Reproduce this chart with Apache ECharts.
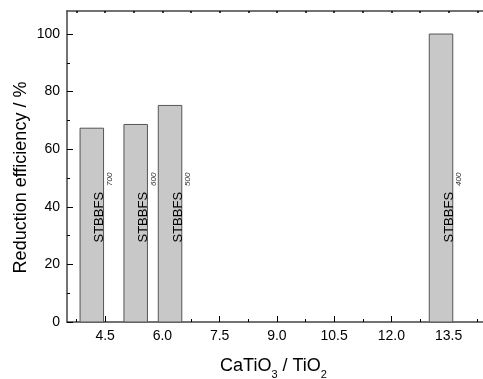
<!DOCTYPE html>
<html>
<head>
<meta charset="utf-8">
<script src="https://cdn.jsdelivr.net/npm/echarts@6/dist/echarts.min.js"></script>
<style>
html,body{margin:0;padding:0;background:#fff;}
#chart{width:483px;height:379px;}
</style>
</head>
<body>
<div id="chart"></div>
<script>
// ---- data ----
const SAMPLE_TEMPS = ['700', '600', '500', '400'];
const RATIO = [4.15, 5.3, 6.2, 13.3];
const EFFICIENCY = [67.3, 68.6, 75.2, 100];
const X_MAJOR_TICKS = [4.5, 6.0, 7.5, 9.0, 10.5, 12.0, 13.5];
const X_MINOR_TICKS = [3.75, 5.25, 6.75, 8.25, 9.75, 11.25, 12.75, 14.25];
const X_TOP_TICKS = [3.75, 4.5, 5.25, 6.0, 6.75, 7.5, 8.25, 9.0, 9.75, 10.5, 11.25, 12.0, 12.75, 13.5, 14.25];
const Y_MAJOR_TICKS = [0, 20, 40, 60, 80, 100];
const Y_MINOR_TICKS = [10, 30, 50, 70, 90];

// ---- styles ----
const FONT = "'Liberation Sans', Arial, sans-serif";
const BAR_W = 23.5;
const LINE_COLOR = '#444';

const seriesData = RATIO.map((x, i) => [x, EFFICIENCY[i], SAMPLE_TEMPS[i]]);

const chart = echarts.init(document.getElementById('chart'), null, {renderer: 'canvas'});

function renderItem(params, api) {
  const x = api.value(0), y = api.value(1);
  const label = SAMPLE_TEMPS[params.dataIndex];
  const top = api.coord([x, y]);
  const base = api.coord([x, 0]);
  const tx = base[0] + 8;
  const ty = base[1] - 79.5;
  return {
    type: 'group',
    children: [
      {
        type: 'rect',
        shape: {x: top[0] - BAR_W / 2, y: top[1], width: BAR_W, height: base[1] - top[1]},
        style: {fill: '#c8c8c8', stroke: '#555', lineWidth: 1}
      },
      {
        type: 'text',
        x: tx, y: ty, rotation: Math.PI / 2,
        style: {text: 'STBBFS', fontSize: 13, fontFamily: FONT, fill: '#000',
                align: 'left', verticalAlign: 'middle', textAlign: 'left', textVerticalAlign: 'middle'}
      },
      {
        type: 'text',
        x: tx + 9.7, y: ty - 56.5, rotation: Math.PI / 2,
        style: {text: label, fontSize: 8, fontStyle: 'italic', fontFamily: FONT, fill: '#333',
                align: 'left', verticalAlign: 'middle', textAlign: 'left', textVerticalAlign: 'middle'}
      }
    ]
  };
}

const xCommon = {type: 'value', min: 3.5, max: 14.4, splitLine: {show: false}};
const yCommon = {type: 'value', min: 0, max: 108, splitLine: {show: false}};

chart.setOption({
  animation: false,
  backgroundColor: '#fff',
  grid: {left: 67, right: 0, top: 11, bottom: 57, containLabel: false},
  xAxis: [
    Object.assign({}, xCommon, {
      position: 'bottom',
      axisLine: {show: true, lineStyle: {color: LINE_COLOR, width: 1.5}},
      axisTick: {show: true, inside: true, length: 6, customValues: X_MAJOR_TICKS, lineStyle: {color: '#000', width: 1}},
      axisLabel: {show: true, customValues: X_MAJOR_TICKS, margin: 7, fontSize: 14, fontFamily: FONT, color: '#000',
                  formatter: v => Number(v).toFixed(1)}
    }),
    Object.assign({}, xCommon, {
      position: 'bottom',
      axisLine: {show: false},
      axisTick: {show: true, inside: true, length: 3, customValues: X_MINOR_TICKS, lineStyle: {color: '#000', width: 1}},
      axisLabel: {show: false}
    }),
    Object.assign({}, xCommon, {
      position: 'top',
      axisLine: {show: true, lineStyle: {color: LINE_COLOR, width: 1.5}},
      axisTick: {show: true, inside: true, length: 2, customValues: X_TOP_TICKS, lineStyle: {color: '#000', width: 1.5}},
      axisLabel: {show: false}
    })
  ],
  yAxis: [
    Object.assign({}, yCommon, {
      position: 'left',
      axisLine: {show: true, lineStyle: {color: LINE_COLOR, width: 1.5}},
      axisTick: {show: true, inside: true, length: 6, customValues: Y_MAJOR_TICKS, lineStyle: {color: '#000', width: 1}},
      axisLabel: {show: true, customValues: Y_MAJOR_TICKS, margin: 7, fontSize: 14, fontFamily: FONT, color: '#000'}
    }),
    Object.assign({}, yCommon, {
      position: 'left',
      axisLine: {show: false},
      axisTick: {show: true, inside: true, length: 3, customValues: Y_MINOR_TICKS, lineStyle: {color: '#000', width: 1}},
      axisLabel: {show: false}
    })
  ],
  graphic: [
    {
      type: 'text', x: 21, y: 177.5, rotation: Math.PI / 2,
      style: {text: 'Reduction efficiency / %', fontSize: 18, fontFamily: FONT, fill: '#000',
              align: 'center', verticalAlign: 'middle', textAlign: 'center', textVerticalAlign: 'middle'}
    },
    {
      type: 'text', x: 273.5, y: 366,
      style: {
        text: '{a|CaTiO}{s|3}{a| / TiO}{s|2}',
        fill: '#000', align: 'center', verticalAlign: 'middle', textAlign: 'center', textVerticalAlign: 'middle',
        rich: {
          a: {fontSize: 18, fontFamily: FONT, lineHeight: 20, fill: '#000'},
          s: {fontSize: 11, fontFamily: FONT, lineHeight: 11, padding: [17, 0, 0, 0], fill: '#000'}
        }
      }
    }
  ],
  series: [{
    type: 'custom',
    xAxisIndex: 0, yAxisIndex: 0,
    renderItem: renderItem,
    encode: {x: 0, y: 1},
    data: seriesData
  }]
});
</script>
</body>
</html>
